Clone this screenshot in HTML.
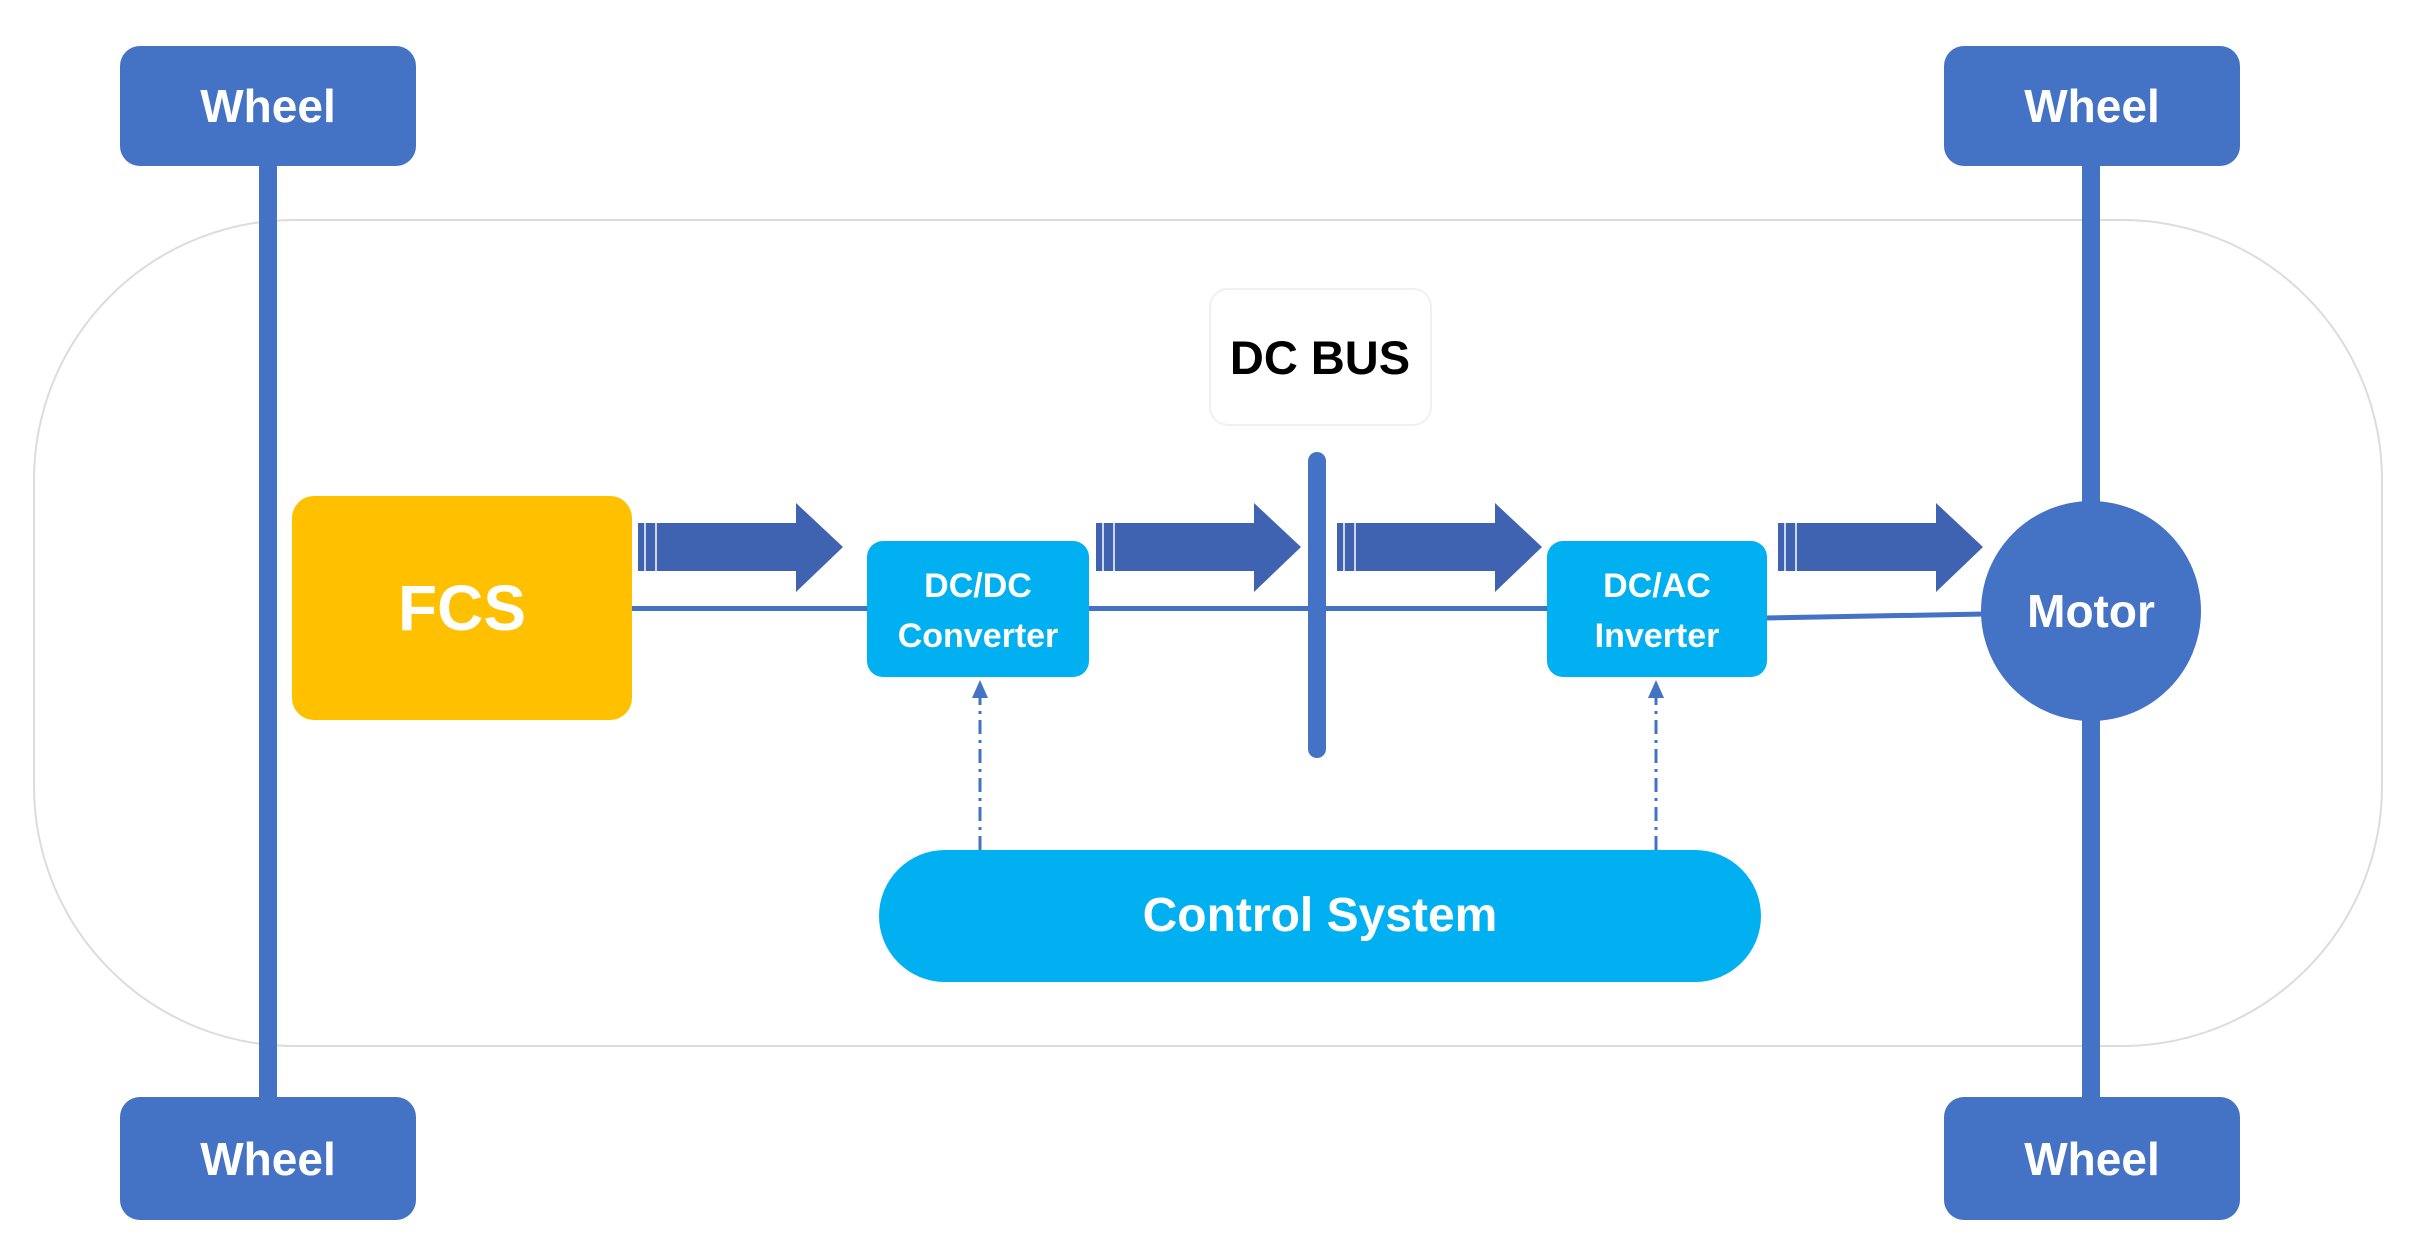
<!DOCTYPE html>
<html><head><meta charset="utf-8"><style>
html,body{margin:0;padding:0;background:#fff;}
svg{display:block}
text{font-family:"Liberation Sans",sans-serif;font-weight:bold;}
</style></head><body>
<svg width="2413" height="1239" viewBox="0 0 2413 1239" xmlns="http://www.w3.org/2000/svg">
<defs>
<g id="arr">
<polygon points="0,20 158,20 158,0 205,44 158,89 158,68 0,68" fill="#3F63B0"/>
<rect x="6" y="20" width="2" height="48" fill="#cdd6ee"/>
<rect x="17" y="20" width="2" height="48" fill="#cdd6ee"/>
</g>
</defs>
<rect x="34" y="220" width="2348" height="826" rx="260" ry="260" fill="none" stroke="#dcdcdc" stroke-width="2"/>
<!-- axles -->
<rect x="259" y="160" width="18" height="945" fill="#4472C4"/>
<rect x="2082" y="160" width="18" height="945" fill="#4472C4"/>
<!-- wheels -->
<rect x="120" y="46" width="296" height="120" rx="20" fill="#4472C4"/>
<rect x="1944" y="46" width="296" height="120" rx="20" fill="#4472C4"/>
<rect x="120" y="1097" width="296" height="123" rx="20" fill="#4472C4"/>
<rect x="1944" y="1097" width="296" height="123" rx="20" fill="#4472C4"/>
<text x="268" y="122" font-size="46" fill="#fff" text-anchor="middle">Wheel</text>
<text x="2092" y="122" font-size="46" fill="#fff" text-anchor="middle">Wheel</text>
<text x="268" y="1175" font-size="46" fill="#fff" text-anchor="middle">Wheel</text>
<text x="2092" y="1175" font-size="46" fill="#fff" text-anchor="middle">Wheel</text>
<!-- main line -->
<rect x="630" y="606" width="920" height="5" fill="#4472C4"/>
<line x1="1765" y1="618" x2="1985" y2="614" stroke="#4472C4" stroke-width="5"/>
<!-- bus -->
<rect x="1308" y="452" width="18" height="306" rx="9" fill="#4472C4"/>
<rect x="1210" y="289" width="221" height="136" rx="18" fill="#fff" stroke="#f0f0f0" stroke-width="2"/>
<text x="1320" y="374" font-size="47" fill="#000" text-anchor="middle">DC BUS</text>
<!-- FCS -->
<rect x="292" y="496" width="340" height="224" rx="22" fill="#FFC000"/>
<text x="462" y="630" font-size="64" fill="#fff" text-anchor="middle">FCS</text>
<!-- converters -->
<rect x="867" y="541" width="222" height="136" rx="16" fill="#00B0F0"/>
<text x="978" y="597" font-size="34" fill="#fff" text-anchor="middle">DC/DC</text>
<text x="978" y="647" font-size="34" fill="#fff" text-anchor="middle">Converter</text>
<rect x="1547" y="541" width="220" height="136" rx="16" fill="#00B0F0"/>
<text x="1657" y="597" font-size="34" fill="#fff" text-anchor="middle">DC/AC</text>
<text x="1657" y="647" font-size="34" fill="#fff" text-anchor="middle">Inverter</text>
<!-- motor -->
<circle cx="2091" cy="611" r="110" fill="#4472C4"/>
<text x="2091" y="627" font-size="46" fill="#fff" text-anchor="middle">Motor</text>
<!-- arrows -->
<use href="#arr" x="638" y="503"/>
<use href="#arr" x="1096" y="503"/>
<use href="#arr" x="1337" y="503"/>
<use href="#arr" x="1778" y="503"/>
<!-- control -->
<rect x="879" y="850" width="882" height="132" rx="66" fill="#00B0F0"/>
<text x="1320" y="931" font-size="48" fill="#fff" text-anchor="middle">Control System</text>
<!-- dashed -->
<line x1="980" y1="850" x2="980" y2="695" stroke="#4472C4" stroke-width="3" stroke-dasharray="14,6,3,6"/>
<polygon points="980,680 972,698 988,698" fill="#4472C4"/>
<line x1="1656" y1="850" x2="1656" y2="695" stroke="#4472C4" stroke-width="3" stroke-dasharray="14,6,3,6"/>
<polygon points="1656,680 1648,698 1664,698" fill="#4472C4"/>
</svg>
</body></html>
